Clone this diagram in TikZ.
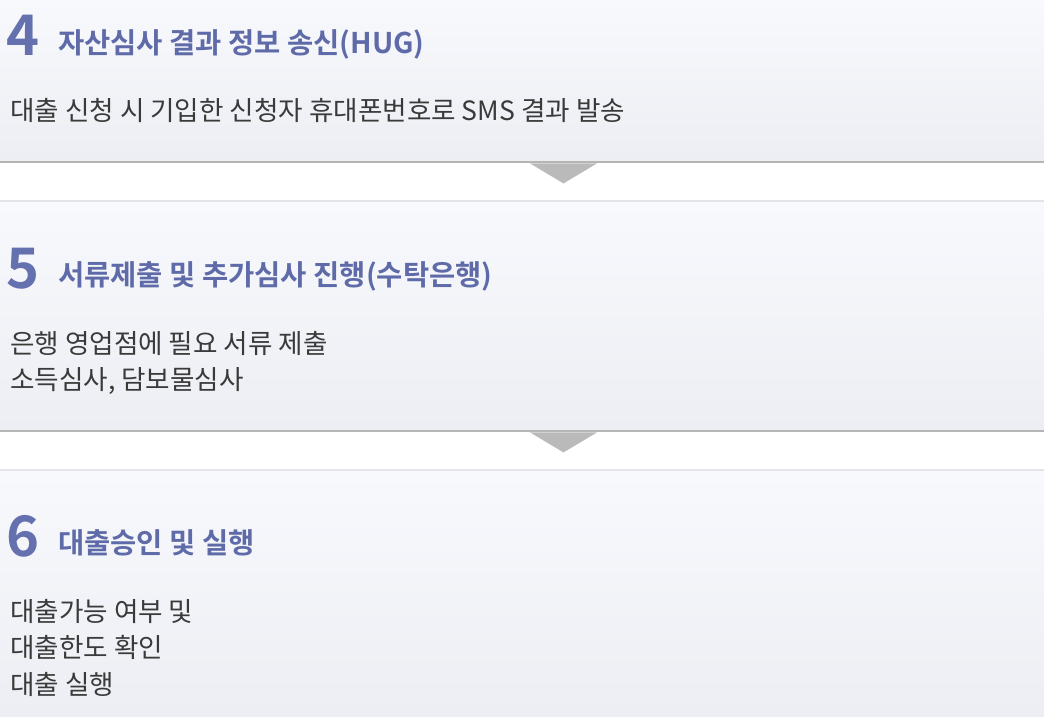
\documentclass[tikz,border=0pt]{standalone}
\usepackage{fontspec}
\newfontfamily\kr{Noto Sans CJK KR}[BoldFont={Noto Sans CJK KR Bold}]
\definecolor{numblue}{HTML}{6571AE}
\definecolor{titleblue}{HTML}{5E6BA8}
\definecolor{bodytxt}{HTML}{3A3A3A}
\definecolor{ptop}{HTML}{F8F9FD}
\definecolor{pbot}{HTML}{EDEEF3}
\definecolor{edgedark}{HTML}{B5B5B5}
\definecolor{edgelight}{HTML}{E4E4E6}
\definecolor{tri}{HTML}{BABABA}
\begin{document}
\begin{tikzpicture}[x=1pt,y=-1pt,
  panel/.style={draw=none,rectangle,inner sep=0pt,top color=ptop,bottom color=pbot,minimum width=1044pt,anchor=north west},
  num/.style={anchor=base west,inner sep=0pt,font=\kr\bfseries\fontsize{56}{56}\selectfont,text=numblue},
  ttl/.style={anchor=base west,inner sep=0pt,font=\kr\bfseries\fontsize{28.5}{28.5}\selectfont,text=titleblue},
  body/.style={anchor=base west,inner sep=0pt,font=\kr\fontsize{26.6}{26.6}\selectfont,text=bodytxt},
  arrowtri/.style={fill=tri,draw=none}]
\useasboundingbox (0,0) rectangle (1044,716);
\fill[white] (0,0) rectangle (1044,716);
% panels
\node[panel,minimum height=161pt] (p4) at (0,0) {};
\node[panel,minimum height=228pt] (p5) at (0,202) {};
\node[panel,minimum height=245pt] (p6) at (0,471) {};
% edges
\draw[edgedark,line width=2pt] (p4.south west) ++(0,1) -- ++(1044,0);
\draw[edgelight,line width=2pt] (p5.north west) ++(0,-1) -- ++(1044,0);
\draw[edgedark,line width=2pt] (p5.south west) ++(0,1) -- ++(1044,0);
\draw[edgelight,line width=2pt] (p6.north west) ++(0,-1) -- ++(1044,0);
% arrows
\fill[arrowtri] (p4.south west) ++(530,2) -- ++(67,0) -- ++(-33.5,20) -- cycle;
\fill[arrowtri] (p5.south west) ++(530,2) -- ++(67,0) -- ++(-33.5,20) -- cycle;
% panel 4
\node[num] (n4) at (6,55) {4};
\node[ttl] (t4) at (58,53) {자산심사 결과 정보 송신(HUG)};
\node[body] (b4) at (10,120) {대출 신청 시 기입한 신청자 휴대폰번호로 SMS 결과 발송};
% panel 5
\node[num] (n5) at (6,288) {5};
\node[ttl] (t5) at (58,285) {서류제출 및 추가심사 진행(수탁은행)};
\node[body] (b5a) at (10,353) {은행 영업점에 필요 서류 제출};
\node[body] (b5b) at (10,389) {소득심사, 담보물심사};
% panel 6
\node[num] (n6) at (6,556) {6};
\node[ttl] (t6) at (58,553) {대출승인 및 실행};
\node[body] (b6a) at (10,621) {대출가능 여부 및};
\node[body] (b6b) at (10,657) {대출한도 확인};
\node[body] (b6c) at (10,694) {대출 실행};
\end{tikzpicture}
\end{document}
